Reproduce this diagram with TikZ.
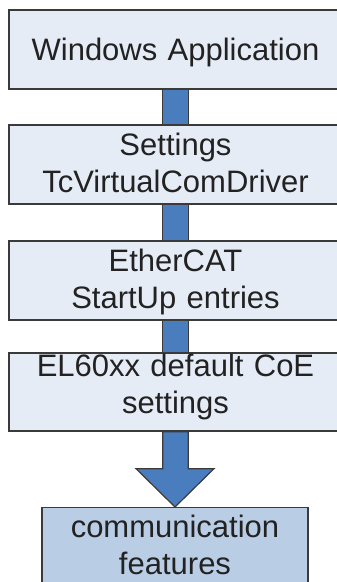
\documentclass[tikz,border=0pt]{standalone}
\usepackage{fontspec}
\setmainfont{Liberation Sans}
\usetikzlibrary{calc}
\definecolor{boxfill}{HTML}{E6ECF6}
\definecolor{featfill}{HTML}{B9CDE5}
\definecolor{connfill}{HTML}{4A7DBE}
\definecolor{edgecol}{HTML}{3A3A3A}
\definecolor{textcol}{HTML}{222222}
\begin{document}
\begin{tikzpicture}[x=1pt,y=-1pt,
  box/.style={draw=edgecol, line width=1.3pt, fill=boxfill, minimum width=333pt,
    minimum height=79pt, inner xsep=0pt, inner ysep=0pt, text width=320pt,
    align=center, text height=22.5pt, text=textcol, font=\fontsize{31}{37}\selectfont},
  conn/.style={draw=edgecol, line width=1.2pt, fill=connfill, line join=miter}]
\useasboundingbox (0,0) rectangle (337,582);
\clip (0,0) rectangle (337,582);
\node[box, text depth=0pt] (b1) at (175.5,49.5) {Windows Application};
\node[box, text depth=40pt] (b2) at (175.5,164.5) {Settings\\TcVirtualComDriver};
\node[box, text depth=40pt] (b3) at (175.5,280.5) {EtherCAT\\StartUp entries};
\node[box, text depth=53pt, minimum height=78pt] (b4) at (175.5,392) {EL60xx default CoE\\settings};
\node[box, fill=featfill, minimum width=266pt, text width=250pt, inner ysep=7.5pt,
  text depth=57pt, anchor=north] (b5) at (175,507) {communication\\features};
\draw[conn] ($(b1.south)+(-12.75,0)$) rectangle ($(b2.north)+(12.75,0)$);
\draw[conn] ($(b2.south)+(-12.75,0)$) rectangle ($(b3.north)+(12.75,0)$);
\draw[conn] ($(b3.south)+(-12.75,0)$) rectangle ($(b4.north)+(12.75,0)$);
\draw[conn] ($(b4.south)+(-12.75,0)$) -- ($(b4.south)+(-12.75,37)$)
  -- ($(b4.south)+(-39.5,37)$) -- (b5.north) -- ($(b4.south)+(38.5,37)$)
  -- ($(b4.south)+(12.75,37)$) -- ($(b4.south)+(12.75,0)$) -- cycle;
\end{tikzpicture}
\end{document}
